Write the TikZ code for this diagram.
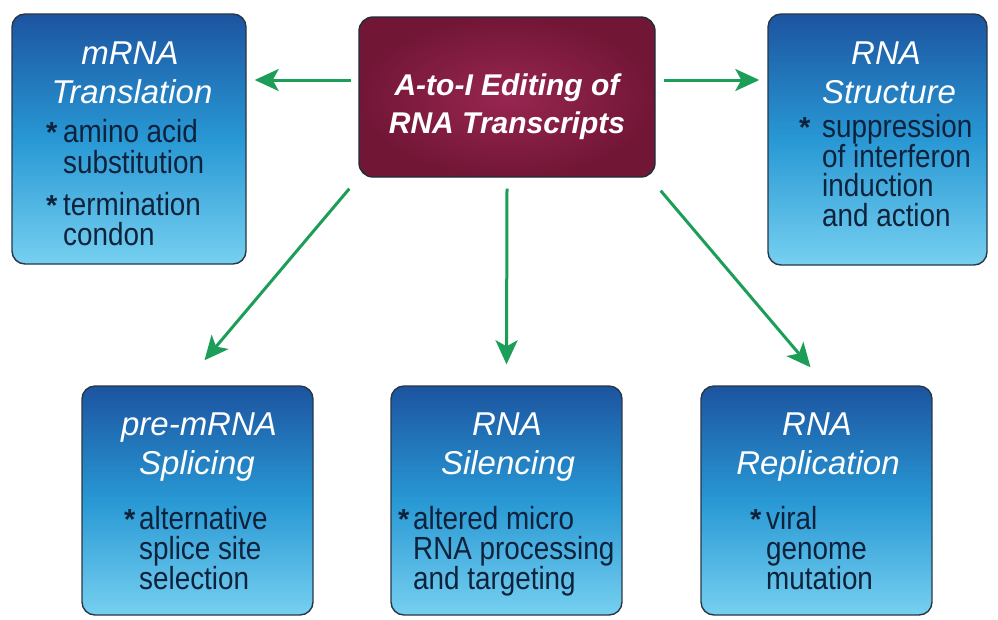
\documentclass[tikz,border=0pt]{standalone}
\usepackage{fontspec}
\setmainfont{Liberation Sans}
\newfontfamily\bodyfont{Liberation Sans}[FakeStretch=0.87]
\usetikzlibrary{arrows.meta,calc}
\definecolor{btop}{RGB}{28,84,160}
\definecolor{bmid}{RGB}{40,152,212}
\definecolor{bbot}{RGB}{118,208,240}
\definecolor{boxline}{RGB}{40,55,70}
\definecolor{bodyc}{RGB}{14,34,60}
\definecolor{cin}{RGB}{152,38,80}
\definecolor{cout}{RGB}{114,22,54}
\definecolor{arrg}{RGB}{28,158,88}
\tikzset{
  bluebox/.style={draw=boxline, line width=1.4pt, rounded corners=13pt,
    top color=btop, bottom color=bbot, middle color=bmid, inner sep=0pt},
  redbox/.style={draw=boxline!80!black, line width=1.4pt, rounded corners=14pt,
    inner color=cin, outer color=cout, inner sep=0pt},
  ttl/.style={text=white, font=\fontsize{33}{36}\selectfont\itshape, anchor=base, inner sep=0pt},
  ctl/.style={text=white, font=\fontsize{30}{34}\selectfont\bfseries\itshape, anchor=base, inner sep=0pt},
  bd/.style={text=bodyc, font=\bodyfont\fontsize{32}{34}\selectfont, anchor=base west, inner sep=0pt},
  st/.style={text=bodyc, font=\fontsize{29}{30}\selectfont\bfseries, anchor=base west, inner sep=0pt},
  arr/.style={draw=arrg, line width=3pt, -{Stealth[length=24pt,width=22pt,inset=6pt]}}
}
\begin{document}
\begin{tikzpicture}[x=1pt,y=-1pt]
\useasboundingbox (0,0) rectangle (998,619);
% boxes
\node[bluebox, minimum width=234pt, minimum height=250pt] (mrna) at (129,139) {};
\node[redbox, minimum width=296pt, minimum height=160pt] (ctr) at (507,97) {};
\node[bluebox, minimum width=219pt, minimum height=251pt] (struc) at (877.5,139.5) {};
\node[bluebox, minimum width=231pt, minimum height=229pt] (pre) at (197.5,500.5) {};
\node[bluebox, minimum width=231pt, minimum height=229pt] (sil) at (506.5,500.5) {};
\node[bluebox, minimum width=231pt, minimum height=229pt] (rep) at (816.5,500.5) {};
% center text
\node[ctl] (c1) at (507,95) {A-to-I Editing of};
\node[ctl] (c2) at (507,133) {RNA Transcripts};
% mRNA Translation
\node[ttl] (m1) at (130,64) {mRNA};
\node[ttl] (m2) at (132,103) {Translation};
\node[st] (ms1) at (46,142) {*};
\node[bd] (mb1) at (63,142) {amino acid};
\node[bd] (mb2) at (63,173) {substitution};
\node[st] (ms2) at (46,215) {*};
\node[bd] (mb3) at (63,215) {termination};
\node[bd] (mb4) at (63,245) {condon};
% RNA Structure
\node[ttl] (s1) at (886,64) {RNA};
\node[ttl] (s2) at (889,103) {Structure};
\node[st] (ss1) at (799,137) {*};
\node[bd] (sb1) at (822,137) {suppression};
\node[bd] (sb2) at (822,167) {of interferon};
\node[bd] (sb3) at (822,196) {induction};
\node[bd] (sb4) at (822,226) {and action};
% pre-mRNA Splicing
\node[ttl] (p1) at (199,435) {pre-mRNA};
\node[ttl] (p2) at (197,474) {Splicing};
\node[st] (ps1) at (124,529) {*};
\node[bd] (pb1) at (139,529) {alternative};
\node[bd] (pb2) at (139,559) {splice site};
\node[bd] (pb3) at (139,589) {selection};
% RNA Silencing
\node[ttl] (l1) at (507,435) {RNA};
\node[ttl] (l2) at (508,474) {Silencing};
\node[st] (ls1) at (398,529) {*};
\node[bd] (lb1) at (413,529) {altered micro};
\node[bd] (lb2) at (413,559) {RNA processing};
\node[bd] (lb3) at (413,589) {and targeting};
% RNA Replication
\node[ttl] (r1) at (817,435) {RNA};
\node[ttl] (r2) at (818,474) {Replication};
\node[st] (rs1) at (750,529) {*};
\node[bd] (rb1) at (766,529) {viral};
\node[bd] (rb2) at (766,559) {genome};
\node[bd] (rb3) at (766,589) {mutation};
% arrows
\coordinate (la) at ([yshift=17pt]ctr.west);
\coordinate (ra) at ([yshift=17pt]ctr.east);
\draw[arr] ($(la)+(-7,0)$) -- ($(mrna.east |- la)+(8,0)$);
\draw[arr] ($(ra)+(8,0)$) -- ($(struc.west |- ra)+(-8,0)$);
\draw[arr] ([xshift=-9pt,yshift=-11pt]ctr.south west) -- ([xshift=7pt,yshift=25pt]pre.north);
\draw[arr] ([yshift=-11pt]ctr.south) -- ([yshift=21pt]sil.north);
\draw[arr] ([xshift=5pt,yshift=-13pt]ctr.south east) -- ([xshift=-6pt,yshift=18pt]rep.north);
\end{tikzpicture}
\end{document}
